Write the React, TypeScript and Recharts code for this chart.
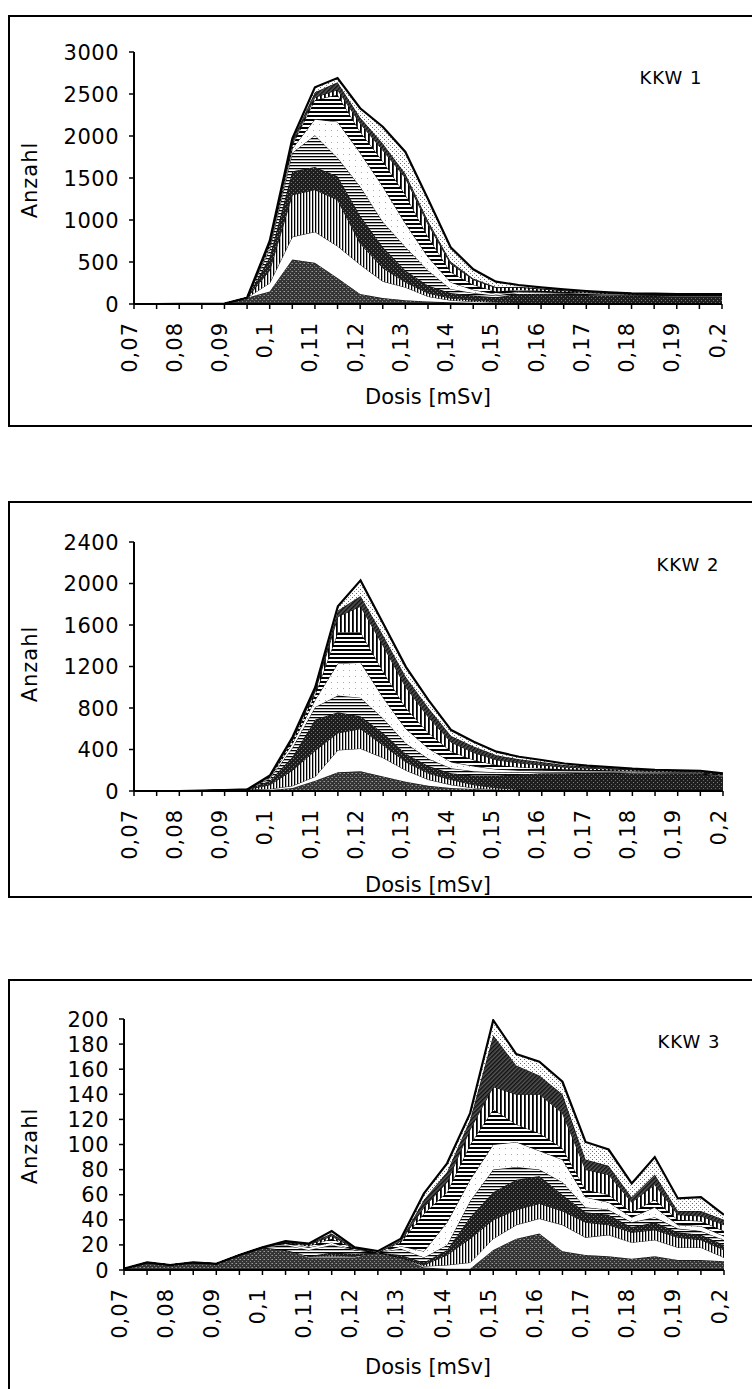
import React from 'react';
import { AreaChart, Area, XAxis, YAxis } from 'recharts';

// x categories (Dosis in mSv)
const doses = [0.07, 0.075, 0.08, 0.085, 0.09, 0.095, 0.1, 0.105, 0.11, 0.115, 0.12, 0.125, 0.13, 0.135, 0.14, 0.145, 0.15, 0.155, 0.16, 0.165, 0.17, 0.175, 0.18, 0.185, 0.19, 0.195, 0.2];
const xLabelValues = [0.07, 0.08, 0.09, 0.1, 0.11, 0.12, 0.13, 0.14, 0.15, 0.16, 0.17, 0.18, 0.19, 0.2];
const xLabelTexts = ['0,07', '0,08', '0,09', '0,1', '0,11', '0,12', '0,13', '0,14', '0,15', '0,16', '0,17', '0,18', '0,19', '0,2'];

const yTicks1 = [0, 500, 1000, 1500, 2000, 2500, 3000];
const yTicks2 = [0, 400, 800, 1200, 1600, 2000, 2400];
const yTicks3 = [0, 20, 40, 60, 80, 100, 120, 140, 160, 180, 200];

// KKW 1 stacked series (bottom -> top)
const kkw1_s1 = [0, 0, 2, 3, 5, 75, 150, 530, 490, 310, 120, 70, 45, 30, 20, 15, 10, 8, 6, 5, 5, 4, 4, 4, 4, 4, 4];
const kkw1_s2 = [0, 0, 0, 0, 0, 0, 100, 270, 370, 380, 350, 200, 155, 60, 25, 15, 10, 4, 2, 2, 1, 1, 1, 1, 1, 1, 1];
const kkw1_s3 = [0, 0, 0, 0, 0, 0, 150, 500, 500, 550, 250, 160, 60, 40, 25, 15, 10, 6, 3, 3, 2, 2, 2, 2, 2, 2, 2];
const kkw1_s4 = [0, 0, 0, 0, 0, 0, 160, 280, 270, 280, 330, 250, 140, 90, 60, 55, 50, 100, 110, 105, 100, 95, 90, 88, 86, 86, 86];
const kkw1_s5 = [0, 0, 0, 0, 0, 0, 90, 220, 380, 220, 350, 300, 280, 180, 50, 30, 20, 20, 15, 12, 10, 8, 7, 7, 6, 6, 6];
const kkw1_s6 = [0, 0, 0, 0, 0, 0, 30, 50, 190, 430, 400, 420, 280, 160, 80, 40, 20, 10, 8, 6, 5, 4, 3, 3, 3, 3, 3];
const kkw1_s7 = [0, 0, 0, 0, 0, 0, 30, 40, 230, 320, 250, 300, 340, 240, 120, 60, 30, 20, 15, 12, 10, 8, 7, 6, 6, 6, 6];
const kkw1_s8 = [0, 0, 0, 0, 0, 0, 15, 20, 30, 60, 100, 130, 200, 150, 100, 60, 45, 30, 20, 14, 10, 8, 6, 6, 5, 5, 5];
const kkw1_s9 = [0, 0, 0, 0, 0, 0, 10, 40, 60, 90, 70, 80, 50, 40, 25, 13, 8, 6, 5, 4, 4, 3, 2, 2, 2, 2, 2];
const kkw1_s10 = [0, 0, 0, 0, 0, 0, 15, 20, 60, 50, 110, 200, 260, 260, 170, 110, 63, 22, 15, 12, 8, 6, 5, 4, 4, 4, 4];

// KKW 2 stacked series
const kkw2_s1 = [0, 0, 0, 4, 8, 15, 10, 30, 100, 180, 190, 140, 90, 50, 30, 20, 10, 5, 4, 3, 3, 3, 3, 3, 3, 3, 3];
const kkw2_s2 = [0, 0, 0, 0, 0, 0, 10, 20, 40, 215, 220, 180, 110, 60, 30, 10, 5, 3, 2, 2, 2, 2, 2, 2, 2, 2, 2];
const kkw2_s3 = [0, 0, 0, 0, 0, 0, 40, 150, 250, 165, 190, 120, 80, 60, 50, 30, 15, 7, 4, 3, 3, 2, 2, 2, 2, 2, 2];
const kkw2_s4 = [0, 0, 0, 0, 0, 0, 40, 130, 300, 200, 120, 120, 80, 70, 60, 90, 120, 145, 160, 162, 167, 168, 163, 161, 163, 158, 133];
const kkw2_s5 = [0, 0, 0, 0, 0, 0, 20, 90, 120, 160, 180, 140, 100, 70, 50, 40, 30, 20, 15, 12, 10, 8, 7, 6, 5, 5, 5];
const kkw2_s6 = [0, 0, 0, 0, 0, 0, 10, 40, 70, 310, 340, 200, 140, 100, 60, 50, 30, 20, 15, 13, 10, 9, 8, 7, 5, 5, 5];
const kkw2_s7 = [0, 0, 0, 0, 0, 0, 10, 30, 50, 300, 290, 250, 200, 150, 100, 60, 40, 30, 20, 15, 10, 8, 7, 6, 5, 5, 5];
const kkw2_s8 = [0, 0, 0, 0, 0, 0, 5, 15, 30, 150, 250, 250, 200, 150, 90, 70, 50, 40, 30, 20, 15, 12, 10, 8, 6, 6, 6];
const kkw2_s9 = [0, 0, 0, 0, 0, 0, 3, 7, 20, 60, 100, 100, 100, 90, 60, 60, 45, 35, 30, 20, 15, 10, 8, 6, 5, 5, 5];
const kkw2_s10 = [0, 0, 0, 0, 0, 0, 2, 8, 20, 40, 150, 115, 97, 76, 57, 45, 34, 25, 19, 15, 10, 8, 5, 4, 4, 4, 4];

// KKW 3 stacked series
const kkw3_s1 = [1, 6, 4, 6, 5, 12, 18, 16, 10, 10, 10, 14, 10, 2, 1, 1, 16, 25, 29, 15, 12, 11, 9, 11, 8, 8, 7];
const kkw3_s2 = [0, 0, 0, 0, 0, 0, 0, 0, 1, 1, 1, 0, 0, 1, 3, 5, 9, 11, 12, 21, 14, 17, 13, 13, 10, 10, 3];
const kkw3_s3 = [0, 0, 0, 0, 0, 0, 0, 0, 0, 1, 0, 0, 0, 1, 8, 19, 15, 12, 12, 11, 12, 8, 8, 8, 8, 6, 6];
const kkw3_s4 = [0, 0, 0, 0, 0, 0, 0, 0, 0, 2, 2, 0, 2, 2, 4, 17, 22, 24, 22, 13, 8, 8, 4, 6, 4, 4, 4];
const kkw3_s5 = [0, 0, 0, 0, 0, 0, 0, 4, 5, 6, 3, 0, 5, 4, 4, 13, 18, 10, 5, 10, 4, 4, 4, 4, 3, 3, 4];
const kkw3_s6 = [0, 0, 0, 0, 0, 0, 0, 1, 2, 2, 0, 0, 2, 5, 18, 17, 20, 20, 15, 18, 8, 6, 4, 8, 3, 4, 3];
const kkw3_s7 = [0, 0, 0, 0, 0, 0, 0, 1, 1, 3, 1, 0, 3, 30, 24, 28, 28, 14, 14, 9, 6, 6, 4, 6, 4, 4, 4];
const kkw3_s8 = [0, 0, 0, 0, 0, 0, 0, 0, 1, 2, 0, 0, 1, 5, 8, 12, 18, 24, 31, 28, 16, 16, 8, 12, 4, 4, 5];
const kkw3_s9 = [0, 0, 0, 0, 0, 0, 0, 1, 1, 2, 1, 0, 1, 6, 8, 8, 41, 23, 15, 15, 8, 7, 4, 8, 3, 4, 4];
const kkw3_s10 = [0, 0, 0, 0, 0, 0, 0, 0, 0, 2, 0, 1, 1, 5, 7, 5, 12, 9, 11, 10, 14, 13, 11, 14, 10, 11, 4];

const kkw1Series = [kkw1_s1, kkw1_s2, kkw1_s3, kkw1_s4, kkw1_s5, kkw1_s6, kkw1_s7, kkw1_s8, kkw1_s9, kkw1_s10];
const kkw2Series = [kkw2_s1, kkw2_s2, kkw2_s3, kkw2_s4, kkw2_s5, kkw2_s6, kkw2_s7, kkw2_s8, kkw2_s9, kkw2_s10];
const kkw3Series = [kkw3_s1, kkw3_s2, kkw3_s3, kkw3_s4, kkw3_s5, kkw3_s6, kkw3_s7, kkw3_s8, kkw3_s9, kkw3_s10];

const layerFills = [
  'url(#pDark)', '#ffffff', 'url(#pVH)', 'url(#pDark2)', 'url(#pHH)',
  'url(#pLight)', 'url(#pHHB)', 'url(#pVH2)', 'url(#pDiag)', 'url(#pLight2)',
];

const FONT = '"DejaVu Sans", Arial, sans-serif';

function buildRows(series: number[][]) {
  return doses.map((x, i) => {
    const row: any = { x };
    series.forEach((s, k) => { row['s' + (k + 1)] = s[i]; });
    return row;
  });
}

type PanelCfg = {
  title: string;
  series: number[][];
  yMax: number;
  yTicks: number[];
  boxTop: number;
  boxHeight: number;
  plotLeft: number;
  plotRight: number;
  plotTop: number;
  plotBottom: number;
  kkwX: number;
  kkwY: number;
  anzahlY: number;
  dosisY: number;
};

const panels: PanelCfg[] = [
  { title: 'KKW 1', series: kkw1Series, yMax: 3000, yTicks: yTicks1, boxTop: 15, boxHeight: 412, plotLeft: 134, plotRight: 722, plotTop: 52, plotBottom: 304, kkwX: 671, kkwY: 78, anzahlY: 180, dosisY: 397 },
  { title: 'KKW 2', series: kkw2Series, yMax: 2400, yTicks: yTicks2, boxTop: 501, boxHeight: 397, plotLeft: 134, plotRight: 723, plotTop: 542, plotBottom: 791, kkwX: 688, kkwY: 565, anzahlY: 664, dosisY: 885 },
  { title: 'KKW 3', series: kkw3Series, yMax: 200, yTicks: yTicks3, boxTop: 979, boxHeight: 430, plotLeft: 124, plotRight: 724, plotTop: 1019, plotBottom: 1270, kkwX: 689, kkwY: 1042, anzahlY: 1146, dosisY: 1367 },
];

function Patterns() {
  return (
    <svg width={0} height={0} style={{ position: 'absolute' }}>
      <defs>
        <pattern id="pDark" width={4} height={4} patternUnits="userSpaceOnUse">
          <rect width={4} height={4} fill="#353535" />
          <rect x={0} y={0} width={1} height={1} fill="#9a9a9a" />
          <rect x={2} y={2} width={1} height={1} fill="#8a8a8a" />
          <rect x={3} y={0} width={1} height={1} fill="#6a6a6a" />
        </pattern>
        <pattern id="pDark2" width={4} height={4} patternUnits="userSpaceOnUse">
          <rect width={4} height={4} fill="#1e1e1e" />
          <rect x={1} y={1} width={1} height={1} fill="#808080" />
          <rect x={3} y={3} width={1} height={1} fill="#6a6a6a" />
        </pattern>
        <pattern id="pVH" width={3} height={3} patternUnits="userSpaceOnUse">
          <rect width={3} height={3} fill="#ffffff" />
          <rect x={0} y={0} width={1.3} height={3} fill="#000" />
        </pattern>
        <pattern id="pVH2" width={4} height={4} patternUnits="userSpaceOnUse">
          <rect width={4} height={4} fill="#ffffff" />
          <rect x={0} y={0} width={1.8} height={4} fill="#000" />
        </pattern>
        <pattern id="pHH" width={3} height={3} patternUnits="userSpaceOnUse">
          <rect width={3} height={3} fill="#ffffff" />
          <rect x={0} y={0} width={3} height={1.3} fill="#000" />
        </pattern>
        <pattern id="pHHB" width={4} height={4} patternUnits="userSpaceOnUse">
          <rect width={4} height={4} fill="#ffffff" />
          <rect x={0} y={0} width={4} height={2} fill="#000" />
        </pattern>
        <pattern id="pDiag" width={3} height={3} patternUnits="userSpaceOnUse" patternTransform="rotate(45)">
          <rect width={3} height={3} fill="#555" />
          <rect x={0} y={0} width={1.5} height={3} fill="#111" />
        </pattern>
        <pattern id="pLight" width={6} height={6} patternUnits="userSpaceOnUse">
          <rect width={6} height={6} fill="#ffffff" />
          <rect x={1} y={1} width={1} height={1} fill="#aaa" />
        </pattern>
        <pattern id="pLight2" width={4} height={4} patternUnits="userSpaceOnUse">
          <rect width={4} height={4} fill="#ffffff" />
          <rect x={0} y={0} width={1} height={1} fill="#666" />
          <rect x={2} y={2} width={1} height={1} fill="#888" />
        </pattern>
      </defs>
    </svg>
  );
}

function Panel({ cfg }: { cfg: PanelCfg }) {
  const chartTop = cfg.boxTop;
  const xAxisH = 90;
  const height = cfg.plotBottom - chartTop + xAxisH;
  const rows = buildRows(cfg.series);
  const n = cfg.series.length;

  const xTick = (props: any) => {
    const { x, payload } = props;
    const idx = xLabelValues.findIndex((v) => Math.abs(v - payload.value) < 1e-9);
    if (idx < 0) return <g />;
    return (
      <text
        transform={`translate(${x - 5},${cfg.plotBottom - chartTop + 18}) rotate(-90)`}
        textAnchor="end"
        dy="0.36em"
        fontSize={21}
        fontFamily={FONT}
        letterSpacing={1}
        fill="#000"
      >
        {xLabelTexts[idx]}
      </text>
    );
  };

  const yTick = (props: any) => {
    const { y, payload } = props;
    return (
      <text x={cfg.plotLeft - 15} y={y} dy="0.36em" textAnchor="end" fontSize={21} fontFamily={FONT} letterSpacing={0.5} fill="#000">
        {payload.value}
      </text>
    );
  };

  return (
    <>
      <div
        style={{
          position: 'absolute', left: 8, top: cfg.boxTop, width: 800, height: cfg.boxHeight,
          border: '2px solid #000', boxSizing: 'border-box',
        }}
      />
      <div style={{ position: 'absolute', left: 0, top: chartTop, width: 752, height }}>
        <AreaChart
          width={752}
          height={height}
          data={rows}
          margin={{ top: cfg.plotTop - chartTop, right: 752 - cfg.plotRight, bottom: 0, left: 0 }}
        >
          <XAxis
            type="number"
            dataKey="x"
            domain={[0.07, 0.2]}
            ticks={doses}
            interval={0}
            allowDataOverflow
            height={xAxisH}
            tick={xTick}
            tickSize={5}
            axisLine={{ stroke: '#000', strokeWidth: 2 }}
            tickLine={{ stroke: '#000', strokeWidth: 1.5 }}
          />
          <YAxis
            type="number"
            domain={[0, cfg.yMax]}
            ticks={cfg.yTicks}
            interval={0}
            allowDataOverflow
            width={cfg.plotLeft}
            tick={yTick}
            tickSize={5}
            axisLine={{ stroke: '#000', strokeWidth: 2 }}
            tickLine={{ stroke: '#000', strokeWidth: 1.5 }}
          />
          {cfg.series.map((_, k) => (
            <Area
              key={k}
              type="linear"
              dataKey={'s' + (k + 1)}
              stackId="a"
              fill={layerFills[k]}
              fillOpacity={1}
              stroke="#000"
              strokeWidth={k === n - 1 ? 2.2 : 0.9}
              dot={false}
              activeDot={false}
              isAnimationActive={false}
            />
          ))}
        </AreaChart>
      </div>
      <div
        style={{
          position: 'absolute', left: 30, top: cfg.anzahlY, transform: 'translate(-50%, -50%) rotate(-90deg)',
          fontFamily: FONT, fontSize: 21, letterSpacing: 1, lineHeight: '21px', whiteSpace: 'nowrap', color: '#000',
        }}
      >
        Anzahl
      </div>
      <div
        style={{
          position: 'absolute', left: 428, top: cfg.dosisY, transform: 'translate(-50%, -50%)',
          fontFamily: FONT, fontSize: 21, lineHeight: '21px', whiteSpace: 'nowrap', color: '#000',
        }}
      >
        Dosis [mSv]
      </div>
      <div
        style={{
          position: 'absolute', left: cfg.kkwX, top: cfg.kkwY, transform: 'translate(-50%, -50%)',
          fontFamily: FONT, fontSize: 18, letterSpacing: 1, lineHeight: '18px', whiteSpace: 'nowrap', color: '#000',
        }}
      >
        {cfg.title}
      </div>
    </>
  );
}

export default function App() {
  return (
    <div style={{ position: 'absolute', left: 0, top: 0, width: 752, height: 1389, overflow: 'hidden', background: '#fff' }}>
      <Patterns />
      {panels.map((p) => (
        <Panel key={p.title} cfg={p} />
      ))}
    </div>
  );
}
